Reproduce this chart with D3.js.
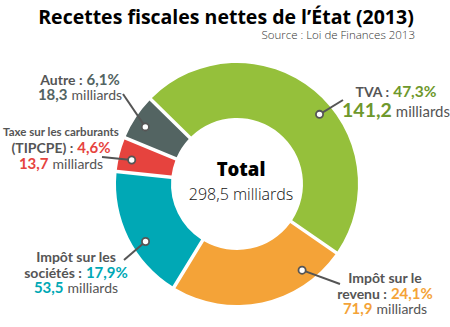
<!DOCTYPE html>
<html>
<head>
<meta charset="utf-8">
<script src="https://cdn.jsdelivr.net/npm/d3@7"></script>
<style>
  body { margin: 0; background: #fff; }
  svg { display: block; }
  text { font-family: "Noto Sans", "Open Sans", sans-serif; }
  text.lbl { font-family: Lato, "Noto Sans", sans-serif; }
</style>
</head>
<body>
<svg id="chart"></svg>
<script>
var W = 450, H = 327;

// recettes fiscales nettes 2013, milliards d'euros
var categories = ["TVA", "Impôt sur le revenu", "Impôt sur les sociétés", "Taxe sur les carburants (TIPCPE)", "Autre"];
var amounts = [141.2, 71.9, 53.5, 13.7, 18.3];
var shares = [47.3, 24.1, 17.9, 4.6, 6.1];
var total = 298.5;

var colours = ["#95c03b", "#f4a338", "#00a8b5", "#e6433e", "#536462"];
var textColours = ["#6e982c", "#f4a338", "#00a8b5", "#e6433e", "#536462"];

// how each label is broken and where it sits
var labelLayout = [
  { lines: ["TVA"], x: 396, y: 97, lh: 20, big: true, dot: 0.56, end: [343, 100] },
  { lines: ["Impôt sur le", "revenu"], x: 385, y: 283, lh: 15.5, dot: 0.21, end: [340, 284] },
  { lines: ["Impôt sur les", "sociétés"], x: 76, y: 262, lh: 15.5, dot: 0.41, end: [124, 260] },
  { lines: ["Taxe sur les carburants", "(TIPCPE)"], x: 61, y: 136, lh: 16.5, small: true, dot: 0.42, end: [102, 157] },
  { lines: ["Autre"], x: 80, y: 85, lh: 15, dot: 0.43, end: [123, 94] }
];

var cx = 237, cy = 184, rOuter = 121, rInner = 66, rDot = 108;

var fr = d3.formatLocale({ decimal: ",", thousands: " ", grouping: [3], currency: ["", "€"] });
var f1 = fr.format(".1f");

var svg = d3.select("#chart").attr("width", W).attr("height", H);

svg.append("text")
  .attr("x", 226).attr("y", 24)
  .attr("text-anchor", "middle")
  .style("font-family", "'Open Sans', sans-serif")
  .style("font-weight", 700)
  .style("font-size", "19.5px")
  .attr("fill", "#000")
  .text("Recettes fiscales nettes de l’État (2013)");

svg.append("text")
  .attr("x", 415).attr("y", 39)
  .attr("text-anchor", "end")
  .style("font-family", "'Open Sans', sans-serif")
  .style("font-weight", 300)
  .style("font-size", "11.5px")
  .attr("fill", "#333")
  .text("Source : Loi de Finances 2013");

var rad = Math.PI / 180;
var pie = d3.pie()
  .sort(null)
  .startAngle(-45.5 * rad)
  .endAngle(314.5 * rad)
  .value(function(d) { return d; });

var arc = d3.arc()
  .innerRadius(rInner)
  .outerRadius(rOuter)
  .padRadius(100)
  .padAngle(0.035);

var arcs = pie(amounts);

var g = svg.append("g").attr("transform", "translate(" + cx + "," + cy + ")");

g.selectAll("path.slice")
  .data(arcs)
  .enter()
  .append("path")
  .attr("class", "slice")
  .attr("d", arc)
  .attr("fill", function(d, i) { return colours[i]; });

// centre
g.append("text")
  .attr("x", 4).attr("y", -8)
  .attr("text-anchor", "middle")
  .style("font-family", "'Open Sans', sans-serif")
  .style("font-weight", 800)
  .style("font-size", "18.5px")
  .attr("fill", "#000")
  .text("Total");

g.append("text")
  .attr("x", 4).attr("y", 16)
  .attr("text-anchor", "middle")
  .style("font-family", "'Open Sans', sans-serif")
  .style("font-weight", 300)
  .style("font-size", "16px")
  .attr("fill", "#111")
  .text(f1(total) + " milliards");

// leader lines and dots
arcs.forEach(function(d, i) {
  var L = labelLayout[i];
  var a = d.startAngle + L.dot * (d.endAngle - d.startAngle);
  var px = cx + rDot * Math.sin(a), py = cy - rDot * Math.cos(a);
  svg.append("line")
    .attr("x1", px).attr("y1", py)
    .attr("x2", L.end[0]).attr("y2", L.end[1])
    .attr("stroke", "#555")
    .attr("stroke-width", 2);
  svg.append("circle")
    .attr("cx", px).attr("cy", py).attr("r", 3.6)
    .attr("fill", "#fff")
    .attr("stroke", "#555")
    .attr("stroke-width", 1.8);
});

// a label line made of several runs laid side by side, centred on x;
// gaps between runs stand in for the spaces
function labelLine(x, y, parts) {
  var runs = parts.map(function(p) {
    var t = svg.append("text")
      .attr("class", "lbl")
      .attr("y", y)
      .style("font-weight", p.w || 700)
      .style("font-size", p.size + "px")
      .attr("fill", p.fill || "#555")
      .text(p.text);
    return { t: t, w: t.node().getComputedTextLength(), gap: p.gap || 0 };
  });
  var x0 = x - d3.sum(runs, function(r) { return r.w + r.gap; }) / 2;
  runs.forEach(function(r) {
    r.t.attr("x", x0);
    x0 += r.w + r.gap;
  });
}

labelLayout.forEach(function(L, i) {
  var nameSize = L.small ? 11.5 : 14;
  L.lines.forEach(function(line, k) {
    var y = L.y + k * L.lh;
    if (k < L.lines.length - 1) {
      labelLine(L.x, y, [{ text: line, size: nameSize }]);
    } else {
      labelLine(L.x, y, [
        { text: line + " :", size: 14, gap: 4 },
        { text: f1(shares[i]) + "%", size: L.big ? 15.5 : 15, fill: textColours[i] }
      ]);
    }
  });
  labelLine(L.x, L.y + L.lines.length * L.lh, [
    { text: f1(amounts[i]), size: L.big ? 19.5 : 15, fill: textColours[i], gap: 4 },
    { text: "milliards", size: L.big ? 15 : 14, w: 400 }
  ]);
});
</script>
</body>
</html>
